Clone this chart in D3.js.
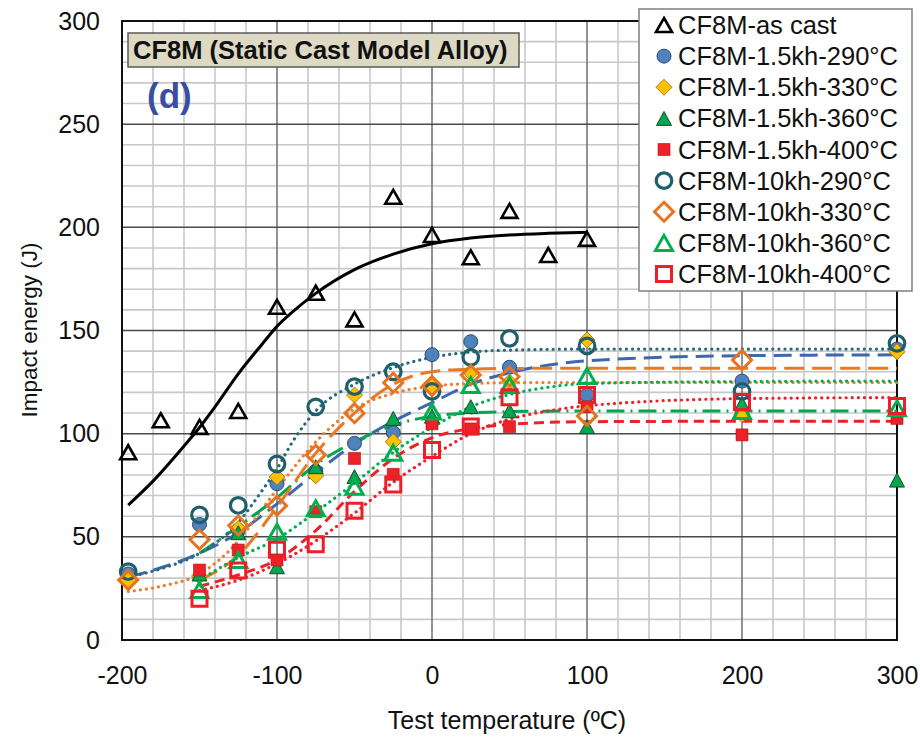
<!DOCTYPE html>
<html>
<head>
<meta charset="utf-8">
<script src="https://cdn.jsdelivr.net/npm/d3@7/dist/d3.min.js"></script>
<style>
  html, body { margin: 0; padding: 0; background: #fff; }
  svg { display: block; }
  text { font-family: "Liberation Sans", Arial, Helvetica, sans-serif; }
</style>
</head>
<body>
<svg id="chart" width="920" height="740"></svg>
<script>
// ---------------- DATA ----------------
const seriesNames = [
  "CF8M-as cast",
  "CF8M-1.5kh-290°C",
  "CF8M-1.5kh-330°C",
  "CF8M-1.5kh-360°C",
  "CF8M-1.5kh-400°C",
  "CF8M-10kh-290°C",
  "CF8M-10kh-330°C",
  "CF8M-10kh-360°C",
  "CF8M-10kh-400°C"
];

const xTicks = [-200, -100, 0, 100, 200, 300];
const yTicks = [0, 50, 100, 150, 200, 250, 300];

// measured points (test temperature, impact energy)
const asCastT = [-196, -175, -150, -125, -100, -75, -50, -25, 0, 25, 50, 75, 100];
const asCastE = [91, 106.5, 103.3, 111, 161.5, 168.3, 155.4, 214.8, 196.3, 185.5, 208, 186.6, 194.4];

const h15_290T = [-196, -150, -125, -100, -75, -50, -25, 0, 25, 50, 100, 200, 300];
const h15_290E = [32, 56, 53.3, 75.7, 81.8, 95.3, 100.5, 138.3, 144.6, 132.2, 118.7, 125.5, 141];

const h15_330T = [-196, -150, -125, -100, -75, -50, -25, 0, 25, 50, 100, 200, 300];
const h15_330E = [29, 31, 54, 79, 79.6, 118.7, 96.1, 123, 129.6, 125, 145.4, 109.3, 139.7];

const h15_360T = [-150, -125, -100, -75, -50, -25, 0, 25, 50, 100, 200, 300];
const h15_360E = [32, 52, 35.5, 84, 79.2, 107.4, 108.5, 113.1, 111.1, 103.4, 114.5, 77.5];

const h15_400T = [-150, -125, -100, -75, -50, -25, 0, 25, 50, 100, 200, 300];
const h15_400E = [33.9, 43.6, 38.8, 62.2, 88, 80.3, 104.8, 102.3, 103.4, 113, 99.4, 107.4];

const h10_290T = [-196, -150, -125, -100, -75, -50, -25, 0, 25, 50, 100, 200, 300];
const h10_290E = [33.1, 60.6, 65.2, 85.3, 113, 122.8, 130, 120.5, 137, 146.2, 142.5, 120.5, 143.8];

const h10_330T = [-196, -150, -125, -100, -75, -50, -25, 0, 25, 50, 100, 200];
const h10_330E = [29.1, 48.7, 55.5, 65.1, 89.7, 109.9, 124.7, 123.1, 128.4, 127.6, 108.6, 135.7];

const h10_360T = [-150, -125, -100, -75, -50, -25, 0, 25, 50, 100, 200, 300];
const h10_360E = [24.2, 38.8, 52.5, 63.8, 74.3, 90.8, 110.7, 123.6, 123.6, 128, 111, 112.3];

const h10_400T = [-150, -125, -100, -75, -50, -25, 0, 25, 50, 100, 200, 300];
const h10_400E = [20, 33.7, 43.7, 46.4, 62.7, 75.4, 92.1, 103.5, 117.6, 118.7, 115.3, 113.4];

// fitted curves
const fitAsCastT = [-196, -180, -160, -150, -140, -125, -110, -100, -90, -75, -50, -25, 0, 25, 50, 75, 100];
const fitAsCastE = [65.4, 77, 94, 103, 113, 129, 143, 152, 159, 168, 179.5, 187, 192, 194.8, 196.3, 197.1, 197.6];

const fit15_290T = [-196, -175, -150, -125, -100, -75, -50, -25, 0, 25, 50, 100, 200, 300];
const fit15_290E = [30.5, 35, 42, 52, 66, 81, 95, 106, 115, 124, 129.5, 135.3, 137.8, 138.2];

const fit15_330T = [-196, -175, -150, -125, -110, -100, -75, -50, -25, 0, 25, 50, 100, 200, 300];
const fit15_330E = [23.5, 26, 32, 48, 63, 73, 96, 112, 119.5, 123, 124.3, 124.7, 124.8, 124.8, 124.8];

const fit15_360T = [-150, -125, -100, -75, -50, -25, 0, 25, 50, 100, 200, 300];
const fit15_360E = [42, 55, 69, 85, 96, 104, 108.5, 110, 110.7, 111, 111, 111];

const fit15_400T = [-150, -125, -100, -75, -50, -25, 0, 25, 50, 100, 200, 300];
const fit15_400E = [26, 31.5, 39, 53, 72, 88, 98, 102.5, 104.5, 105.8, 106, 106];

const fit10_290T = [-196, -175, -150, -125, -110, -100, -90, -75, -50, -25, 0, 25, 50, 100, 200, 300];
const fit10_290E = [30.5, 34.5, 42, 57, 72, 83, 96, 111, 124, 132, 137, 139.5, 140.5, 141, 141, 141];

const fit10_330T = [-150, -125, -100, -75, -50, -25, 0, 25, 50, 100, 200, 300];
const fit10_330E = [29, 41, 64.5, 90.5, 110, 124, 130, 131.3, 131.6, 131.7, 131.7, 131.7];

const fit10_360T = [-150, -125, -100, -75, -50, -25, 0, 25, 50, 75, 100, 200, 300];
const fit10_360E = [29, 40, 49, 62, 76, 91, 103, 113, 119, 122.5, 124.3, 125.3, 125.5];

const fit10_400T = [-150, -125, -100, -75, -50, -25, 0, 25, 50, 75, 100, 200, 300];
const fit10_400E = [24, 29, 37, 48, 61.5, 76.5, 89, 100, 107, 111, 113.5, 117, 117.5];

// ---------------- CHART ----------------
const svg = d3.select("#chart");
const L = 122, R = 897, T = 21, B = 640;
const x = d3.scaleLinear().domain([-200, 300]).range([L, R]);
const y = d3.scaleLinear().domain([0, 300]).range([B, T]);

// grid
const grid = svg.append("g");
grid.selectAll("line.vminor").data(d3.range(-180, 300, 20).filter(v => v % 100 !== 0))
  .join("line").attr("x1", d => x(d)).attr("x2", d => x(d)).attr("y1", T).attr("y2", B)
  .attr("stroke", "#c8c8c8").attr("stroke-width", 1.6);
grid.selectAll("line.hminor").data(d3.range(10, 300, 10).filter(v => v % 50 !== 0))
  .join("line").attr("x1", L).attr("x2", R).attr("y1", d => y(d)).attr("y2", d => y(d))
  .attr("stroke", "#c8c8c8").attr("stroke-width", 1.6);
grid.selectAll("line.vmajor").data(xTicks.slice(1, -1))
  .join("line").attr("x1", d => x(d)).attr("x2", d => x(d)).attr("y1", T).attr("y2", B)
  .attr("stroke", "#6e6e6e").attr("stroke-width", 1.5);
grid.selectAll("line.hmajor").data(yTicks.slice(1, -1))
  .join("line").attr("x1", L).attr("x2", R).attr("y1", d => y(d)).attr("y2", d => y(d))
  .attr("stroke", "#4a4a4a").attr("stroke-width", 1.5);
svg.append("rect").attr("x", L).attr("y", T).attr("width", R - L).attr("height", B - T)
  .attr("fill", "none").attr("stroke", "#111").attr("stroke-width", 2);

// axes
const xAxis = d3.axisBottom(x).tickValues(xTicks).tickSize(0).tickPadding(26).tickFormat(d => String(d));
const gx = svg.append("g").attr("transform", `translate(0,${B})`).call(xAxis);
gx.select(".domain").remove();
gx.selectAll("text").attr("font-size", 25).attr("fill", "#111")
  .style("font-family", "'Liberation Sans', Arial, sans-serif");

const yAxis = d3.axisLeft(y).tickValues(yTicks).tickSize(0).tickPadding(22).tickFormat(d => String(d));
const gy = svg.append("g").attr("transform", `translate(${L},0)`).call(yAxis);
gy.select(".domain").remove();
gy.selectAll("text").attr("font-size", 25).attr("fill", "#111")
  .style("font-family", "'Liberation Sans', Arial, sans-serif");

svg.append("text").attr("x", 507).attr("y", 729).attr("text-anchor", "middle")
  .attr("font-size", 25).attr("fill", "#111").text("Test temperature (ºC)");
svg.append("text").attr("transform", "translate(37,330) rotate(-90)").attr("text-anchor", "middle")
  .attr("font-size", 22.5).attr("fill", "#111").text("Impact energy (J)");

// fit lines
const lineGen = d3.line().x(d => x(d[0])).y(d => y(d[1])).curve(d3.curveMonotoneX);
const zip = (a, b) => a.map((v, i) => [v, b[i]]);
const fits = [
  { t: fitAsCastT, e: fitAsCastE, color: "#000000", dash: null, w: 3 },
  { t: fit15_290T, e: fit15_290E, color: "#3d68ad", dash: "18,8", w: 3 },
  { t: fit15_330T, e: fit15_330E, color: "#ed7d31", dash: "0.1,6", w: 3.2, cap: "round" },
  { t: fit15_360T, e: fit15_360E, color: "#00a650", dash: "18,6,2,6", w: 3 },
  { t: fit15_400T, e: fit15_400E, color: "#ee2028", dash: "10,6", w: 3 },
  { t: fit10_290T, e: fit10_290E, color: "#2b6a7a", dash: "0.1,6", w: 3.2, cap: "round" },
  { t: fit10_330T, e: fit10_330E, color: "#e97a24", dash: "20,8", w: 3 },
  { t: fit10_360T, e: fit10_360E, color: "#00b050", dash: "0.1,6", w: 3.2, cap: "round" },
  { t: fit10_400T, e: fit10_400E, color: "#f0202a", dash: "0.1,6", w: 3.2, cap: "round" }
];
const fitG = svg.append("g");
fits.forEach(f => {
  fitG.append("path").attr("d", lineGen(zip(f.t, f.e)))
    .attr("fill", "none").attr("stroke", f.color).attr("stroke-width", f.w)
    .attr("stroke-dasharray", f.dash).attr("stroke-linecap", f.cap || "butt");
});

// markers
function tri(w, h) { return `M0,${-h/2}L${w/2},${h/2}L${-w/2},${h/2}Z`; }
function dia(r) { return `M0,${-r}L${r},0L0,${r}L${-r},0Z`; }
function sq(s) { return `M${-s/2},${-s/2}h${s}v${s}h${-s}Z`; }
function circ(r) { return `M${r},0A${r},${r} 0 1,1 ${-r},0A${r},${r} 0 1,1 ${r},0Z`; }

const styles = [
  { d: tri(16, 14), fill: "none", stroke: "#000", sw: 2.6 },
  { d: circ(7), fill: "#4f81bd", stroke: "#2c4d75", sw: 1 },
  { d: dia(8), fill: "#ffc000", stroke: "#b07d10", sw: 1 },
  { d: tri(15, 14), fill: "#00a650", stroke: "#1b4d2b", sw: 1 },
  { d: sq(12), fill: "#ed2128", stroke: "#b01010", sw: 0.6 },
  { d: circ(7.8), fill: "none", stroke: "#1f5f6b", sw: 3.2 },
  { d: dia(9.5), fill: "none", stroke: "#e8731f", sw: 3 },
  { d: tri(17, 15), fill: "none", stroke: "#00b050", sw: 3 },
  { d: sq(15), fill: "none", stroke: "#ef1d25", sw: 3 }
];
const pts = [
  [asCastT, asCastE], [h15_290T, h15_290E], [h15_330T, h15_330E], [h15_360T, h15_360E],
  [h15_400T, h15_400E], [h10_290T, h10_290E], [h10_330T, h10_330E], [h10_360T, h10_360E],
  [h10_400T, h10_400E]
];
const mG = svg.append("g");
pts.forEach((p, i) => {
  const st = styles[i];
  mG.append("g").selectAll("path").data(zip(p[0], p[1])).join("path")
    .attr("transform", d => `translate(${x(d[0])},${y(d[1])})`)
    .attr("d", st.d).attr("fill", st.fill).attr("stroke", st.stroke)
    .attr("stroke-width", st.sw).attr("stroke-linejoin", "miter");
});

// title box
svg.append("rect").attr("x", 128).attr("y", 33).attr("width", 391).attr("height", 34)
  .attr("fill", "#ddd9c3").attr("stroke", "#5a5a5a").attr("stroke-width", 1.5);
svg.append("text").attr("x", 133).attr("y", 59).attr("font-size", 25.5).attr("font-weight", "bold")
  .attr("fill", "#111").text("CF8M (Static Cast Model Alloy)");
svg.append("text").attr("x", 147).attr("y", 108).attr("font-size", 35).attr("font-weight", "bold")
  .attr("fill", "#3a4da0").text("(d)");

// legend
const leg = svg.append("g");
leg.append("rect").attr("x", 639).attr("y", 9).attr("width", 273).attr("height", 282)
  .attr("fill", "#fff").attr("stroke", "#7f7f7f").attr("stroke-width", 1.5);
const legY = d3.scalePoint().domain(seriesNames).range([25, 274]);
seriesNames.forEach((n, i) => {
  const st = styles[i];
  const cy = legY(n);
  leg.append("path").attr("transform", `translate(664,${cy})`).attr("d", st.d)
    .attr("fill", st.fill).attr("stroke", st.stroke).attr("stroke-width", st.sw);
  leg.append("text").attr("x", 678).attr("y", cy + 9).attr("font-size", 25.5)
    .attr("fill", "#111").text(n);
});
</script>
</body>
</html>
